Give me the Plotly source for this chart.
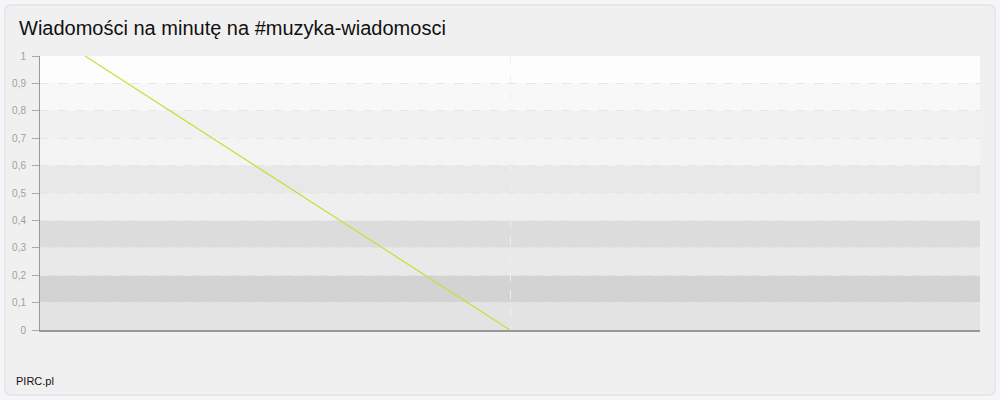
import plotly.graph_objects as go

title_text = "Wiadomości na minutę na #muzyka-wiadomosci"
footer_text = "PIRC.pl"
x_values = [0, 1]
y_values = [1, 0]
y_ticks = [0, 0.1, 0.2, 0.3, 0.4, 0.5, 0.6, 0.7, 0.8, 0.9, 1]
y_tick_labels = ["0", "0,1", "0,2", "0,3", "0,4", "0,5", "0,6", "0,7", "0,8", "0,9", "1"]
band_colors = ["#e3e3e3", "#d3d3d3", "#e9e9e9", "#dcdcdc", "#efefef",
               "#e8e8e8", "#f4f4f4", "#f1f1f1", "#f8f8f8", "#fdfdfd"]

L, R, T, B = 40, 20, 56, 70
W, H = 1000, 400
pw = W - L - R
ph = H - T - B

def px_x(p):
    return (p - L) / pw

def px_y(p):
    return (H - B - p) / ph

fig = go.Figure()

shapes = []
# card
x0, x1 = px_x(5), px_x(995)
y0, y1 = px_y(395), px_y(5)
rx = 6 / pw
ry = 6 / ph
path = (f"M {x0+rx},{y1} L {x1-rx},{y1} Q {x1},{y1} {x1},{y1-ry} "
        f"L {x1},{y0+ry} Q {x1},{y0} {x1-rx},{y0} L {x0+rx},{y0} "
        f"Q {x0},{y0} {x0},{y0+ry} L {x0},{y1-ry} Q {x0},{y1} {x0+rx},{y1} Z")
shapes.append(dict(type="path", xref="paper", yref="paper", path=path,
                   fillcolor="#f0f0f0", line=dict(color="#e2e3e6", width=1.5),
                   layer="below"))
for i, c in enumerate(band_colors):
    shapes.append(dict(type="rect", xref="paper", yref="y", x0=0, x1=1,
                       y0=y_ticks[i], y1=y_ticks[i + 1], fillcolor=c,
                       line=dict(width=0), layer="below"))

fig.add_trace(go.Scatter(x=x_values, y=y_values, mode="lines",
                         line=dict(color="#c6de3c", width=1.2),
                         hoverinfo="skip", showlegend=False))

fig.update_layout(
    width=W, height=H,
    margin=dict(l=L, r=R, t=T, b=B),
    paper_bgcolor="#f4f5f8",
    plot_bgcolor="rgba(0,0,0,0)",
    font=dict(family="Liberation Sans, Arial, sans-serif"),
    shapes=shapes,
    showlegend=False,
    annotations=[
        dict(text=title_text, xref="paper", yref="paper", x=px_x(17), y=px_y(28),
             xanchor="left", yanchor="middle", showarrow=False,
             font=dict(size=20, color="#111111")),
        dict(text=footer_text, xref="paper", yref="paper", x=px_x(14), y=px_y(381),
             xanchor="left", yanchor="middle", showarrow=False,
             font=dict(size=11, color="#111111")),
    ],
)
fig.update_xaxes(range=[(L - 85) / 425, (W - R - 85) / 425], tickvals=[1],
                 showticklabels=False, ticks="", showgrid=True,
                 gridcolor="#f0f0f0", griddash="dash", gridwidth=1,
                 zeroline=False, showline=True, linecolor="#999999", linewidth=1.5,
                 fixedrange=True)
fig.update_yaxes(range=[0, 1], tickvals=y_ticks, ticktext=y_tick_labels,
                 ticks="outside", ticklen=7, tickcolor="#aaaaaa", ticklabelstandoff=4,
                 tickfont=dict(size=10, color="#a0a0a0"),
                 showgrid=True, gridcolor="#e6e6e6", griddash="dash", gridwidth=1,
                 zeroline=False, showline=True, linecolor="#999999", linewidth=1,
                 fixedrange=True)

fig.write_html("out.html", config={"displayModeBar": False},
               post_script="document.body.style.margin='0';document.body.style.padding='0';")
